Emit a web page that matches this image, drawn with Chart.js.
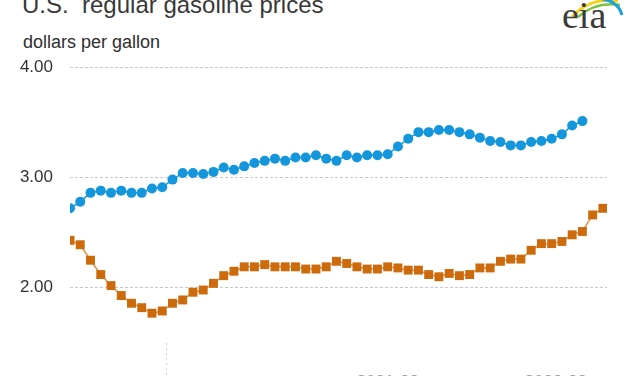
<!DOCTYPE html>
<html>
<head>
<meta charset="utf-8">
<script src="https://cdn.jsdelivr.net/npm/chart.js@4/dist/chart.umd.min.js"></script>
<style>
  html,body{margin:0;padding:0;background:#fff;overflow:hidden;}
  #wrap{position:relative;width:627px;height:376px;overflow:hidden;font-family:"Liberation Sans",Arial,sans-serif;color:#333;}
  #title{position:absolute;left:22px;top:-9px;font-size:24px;white-space:pre;color:#383838;}
  #sub{position:absolute;left:23px;top:32px;font-size:18px;color:#2e2e2e;}
  #logo{position:absolute;left:560px;top:-5px;}
  #logoTxt{position:absolute;left:562px;top:-7px;font-family:"Liberation Serif","DejaVu Serif",serif;font-size:38px;color:#3a3a3a;}
  canvas{position:absolute;left:0;top:0;}
</style>
</head>
<body>
<div id="wrap">
  <div id="title">U.S.  regular gasoline prices</div>
  <div id="sub">dollars per gallon</div>
  <svg id="logo" width="67" height="24" viewBox="0 0 67 24">
    <path d="M12 22 Q30 2 58 6" stroke="#f2d21b" stroke-width="3" fill="none"/>
    <path d="M18 22 Q36 6 60 10" stroke="#7cc242" stroke-width="2.5" fill="none"/>
    <path d="M42 4 Q58 6 62 20" stroke="#1aa0dc" stroke-width="3" fill="none"/>
  </svg>
  <div id="logoTxt">eia</div>
  <canvas id="c" width="627" height="376"></canvas>
</div>
<script>
// weekly points
const blueVals=[2.72,2.78,2.86,2.88,2.86,2.88,2.86,2.86,2.90,2.91,
  2.98,3.04,3.04,3.03,3.05,3.09,3.07,3.10,3.13,3.15,
  3.17,3.15,3.18,3.18,3.20,3.17,3.15,3.20,3.18,3.20,
  3.20,3.21,3.28,3.35,3.41,3.41,3.43,3.43,3.41,3.39,
  3.36,3.33,3.32,3.29,3.29,3.32,3.33,3.35,3.39,3.47,3.51];
const orangeVals=[2.43,2.39,2.25,2.12,2.02,1.93,1.86,1.82,1.77,1.79,
  1.86,1.89,1.96,1.98,2.04,2.11,2.15,2.19,2.19,2.21,
  2.19,2.19,2.19,2.17,2.17,2.19,2.24,2.22,2.19,2.17,
  2.17,2.19,2.18,2.16,2.16,2.12,2.10,2.13,2.11,2.12,
  2.18,2.18,2.24,2.26,2.26,2.34,2.40,2.40,2.42,2.48,2.51,2.66,2.72];
const yTicks=[2,3,4];
const xTickVals=[9.4,31,47.4];
const xTickLabels=['','2021-22','2022-23'];
const dividerVal=9.4;

const toPts=a=>a.map((v,i)=>({x:i,y:v}));

new Chart(document.getElementById('c'),{
  type:'line',
  data:{datasets:[
    {label:'blue',data:toPts(blueVals),borderColor:'#1496dc',backgroundColor:'#1496dc',borderWidth:1.5,
     pointStyle:'circle',pointRadius:5,pointBorderWidth:0,tension:0},
    {label:'orange',data:toPts(orangeVals),borderColor:'#e38f44',backgroundColor:'#cc6a0c',borderWidth:1.5,
     pointStyle:'rect',pointRadius:6.3,pointBorderWidth:0,tension:0}
  ]},
  options:{
    responsive:false,animation:false,
    layout:{padding:{top:67,right:20,left:0,bottom:0}},
    plugins:{legend:{display:false},tooltip:{enabled:false}},
    scales:{
      x:{type:'linear',min:0,max:52.4,
        border:{display:false},
        grid:{drawOnChartArea:false,tickLength:33,tickBorderDash:[2,3],
          tickColor:c=>c.tick&&c.tick.value===dividerVal?'#d0d0d0':'rgba(0,0,0,0)'},
        afterBuildTicks:a=>{a.ticks=xTickVals.map(v=>({value:v}));},
        ticks:{padding:-4,autoSkip:false,maxRotation:0,color:'#999',font:{family:'Liberation Sans',size:17},
          callback:(v,i)=>xTickLabels[i]},
        afterFit:s=>{s.height=33;}
      },
      y:{min:1.5,max:4,
        border:{display:false,dash:[3,2]},
        afterBuildTicks:a=>{a.ticks=yTicks.map(v=>({value:v}));},
        grid:{color:'#cbc5cf',lineWidth:1,drawTicks:false},
        ticks:{padding:17,color:'#333',font:{family:'Liberation Sans',size:17},callback:v=>v.toFixed(2)},
        afterFit:s=>{s.width=70;}
      }
    }
  }
});
</script>
</body>
</html>
